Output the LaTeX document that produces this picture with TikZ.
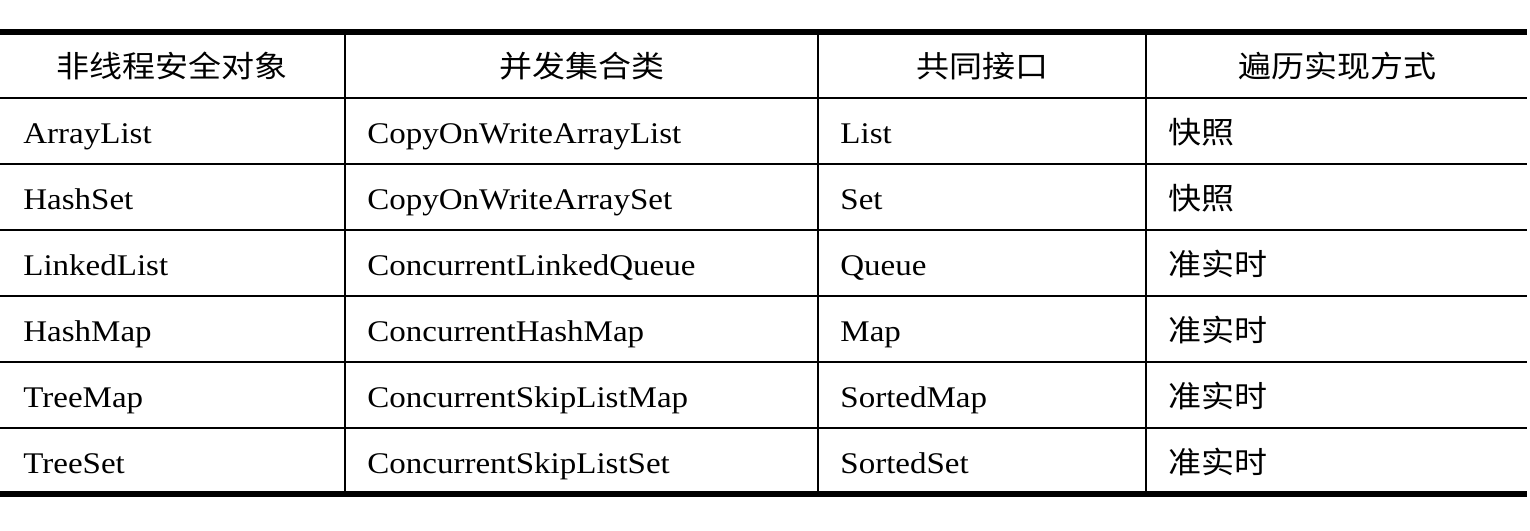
\documentclass[tikz,border=0pt]{standalone}
\usepackage{fontspec}
\setmainfont{Liberation Serif}[FakeStretch=1.1]
\newfontfamily\cjk{Noto Sans CJK SC}[FakeStretch=1.1]
\usetikzlibrary{positioning}

\newcommand{\cellsize}{\fontsize{15}{18}\selectfont}

\tikzset{
  head/.style={anchor=center,inner sep=0pt,font=\cellsize\cjk},
  cell/.style={anchor=base west,inner sep=0pt,font=\cellsize},
  cjkcell/.style={cell,font=\cellsize\cjk},
  rule/.style={line width=1pt},
  bigrule/.style={line width=2.6pt}
}

\begin{document}
\begin{tikzpicture}[x=0.5pt,y=-0.5pt]
  \useasboundingbox (0,0) rectangle (1530,530);

  % rules
  \draw[bigrule] (0,32) -- (1527,32);
  \draw[bigrule] (0,494) -- (1527,494);
  \foreach \y in {98,164,230,296,362,428}
    \draw[rule] (0,\y) -- (1527,\y);
  \foreach \x in {345,818,1146}
    \draw[rule] (\x,32) -- (\x,494);

  % header
  \node[head] (h1) at (172,66) {非线程安全对象};
  \node[head] (h2) at (582,66) {并发集合类};
  \node[head] (h3) at (982,66) {共同接口};
  \node[head] (h4) at (1337,66) {遍历实现方式};

  % body
  \foreach \a/\b/\c/\d [count=\i] in {
      ArrayList/CopyOnWriteArrayList/List/快照,
      HashSet/CopyOnWriteArraySet/Set/快照,
      LinkedList/ConcurrentLinkedQueue/Queue/准实时,
      HashMap/ConcurrentHashMap/Map/准实时,
      TreeMap/ConcurrentSkipListMap/SortedMap/准实时,
      TreeSet/ConcurrentSkipListSet/SortedSet/准实时}{
    \node[cell] (a\i) at (23,{98+66*(\i-1)+45}) {\a};
    \node[cell] (b\i) at (367,{98+66*(\i-1)+45}) {\b};
    \node[cell] (c\i) at (840,{98+66*(\i-1)+45}) {\c};
    \node[cjkcell] (d\i) at (1168,{98+66*(\i-1)+45}) {\d};
  }
\end{tikzpicture}
\end{document}
